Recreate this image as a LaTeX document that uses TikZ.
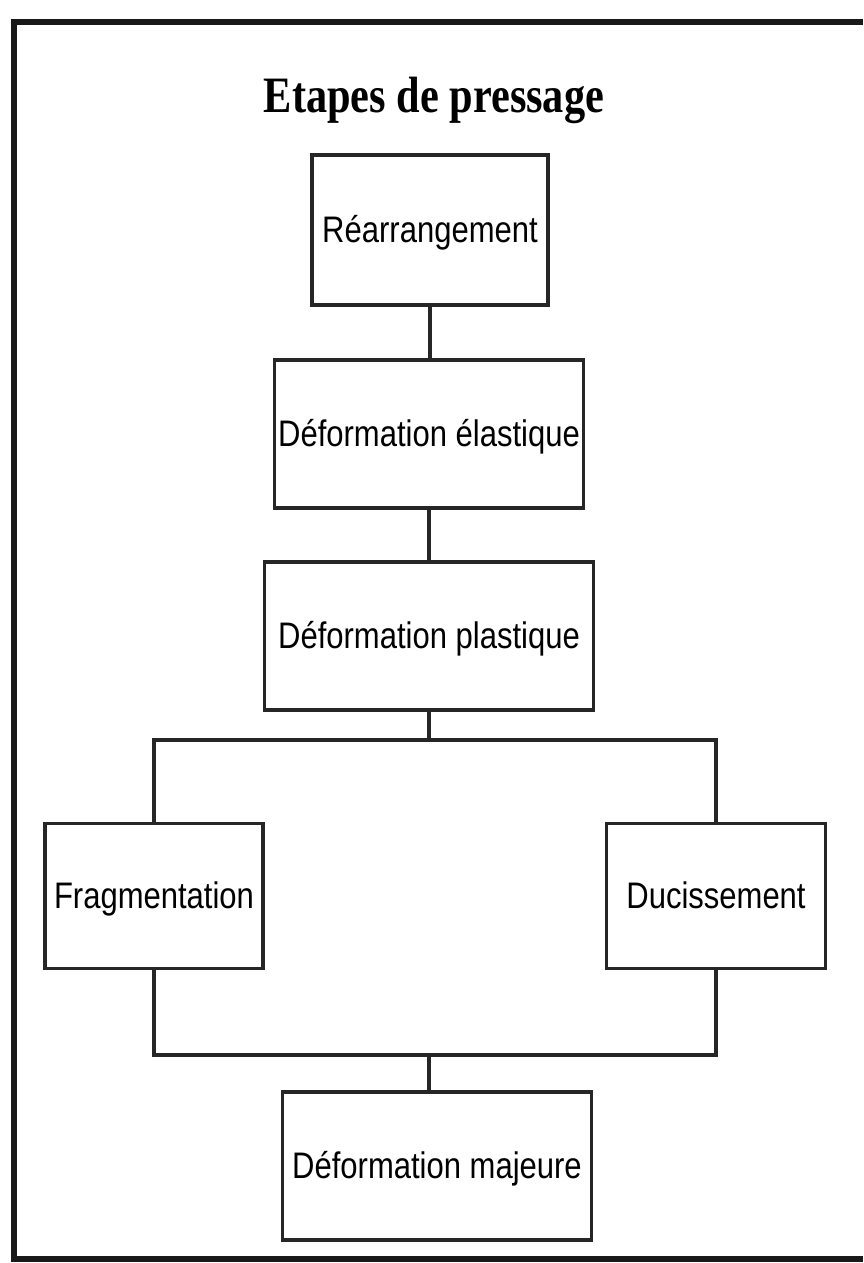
\documentclass[tikz,border=0pt]{standalone}
\usepackage{fontspec}
\usepackage{graphicx}
\usepackage{tikz}
\usetikzlibrary{positioning}
\setmainfont{Liberation Sans}
\newfontfamily\titlefont{Liberation Serif}

\tikzset{
	stage/.style={draw=black!85, line width=0.9pt, rectangle, inner sep=0pt,
		text height=0.72em, text depth=0pt,
		font=\fontsize{10.5}{12}\selectfont},
	link/.style={draw=black!85, line width=0.9pt},
	frame/.style={draw=black!90, line width=1.6pt}
}
\newcommand{\narrow}[1]{\scalebox{0.84}[1]{#1}}

\begin{document}
\begin{tikzpicture}[x=0.01cm, y=-0.01cm]

	\useasboundingbox (0,0) rectangle (863,1263);
	\draw [frame] (863,22) -- (14,22) -- (14,1259) -- (863,1259);

	\node (title)[anchor=base] at (434,112){\titlefont\bfseries\fontsize{14.5}{16}\selectfont\scalebox{0.83}[1]{Etapes de pressage}};

	\node (rearr)[stage, minimum width=2.36cm, minimum height=1.5cm] at (430,230){\narrow{Réarrangement}};
	\node (elast)[stage, minimum width=3.09cm, minimum height=1.48cm] at (429,434){\narrow{Déformation élastique}};
	\node (plast)[stage, minimum width=3.28cm, minimum height=1.48cm] at (429,636){\narrow{Déformation plastique}};
	\node (frag)[stage, minimum width=2.18cm, minimum height=1.45cm] at (154,896){\narrow{Fragmentation}};
	\node (duc)[stage, minimum width=2.19cm, minimum height=1.45cm] at (716,896){\narrow{Ducissement}};
	\node (major)[stage, minimum width=3.09cm, minimum height=1.48cm] at (437,1166){\narrow{Déformation majeure}};

	\coordinate (split) at (429,740);
	\coordinate (join) at (429,1055);

	\draw [link] (rearr.south) -- (rearr.south |- elast.north);
	\draw [link] (elast.south) -- (elast.south |- plast.north);
	\draw [link] (plast.south) -- (split);
	\draw [link] (frag.north) -- (frag.north |- split) -- (duc.north |- split) -- (duc.north);
	\draw [link] (frag.south) -- (frag.south |- join) -- (duc.south |- join) -- (duc.south);
	\draw [link] (join) -- (join |- major.north);

\end{tikzpicture}
\end{document}
